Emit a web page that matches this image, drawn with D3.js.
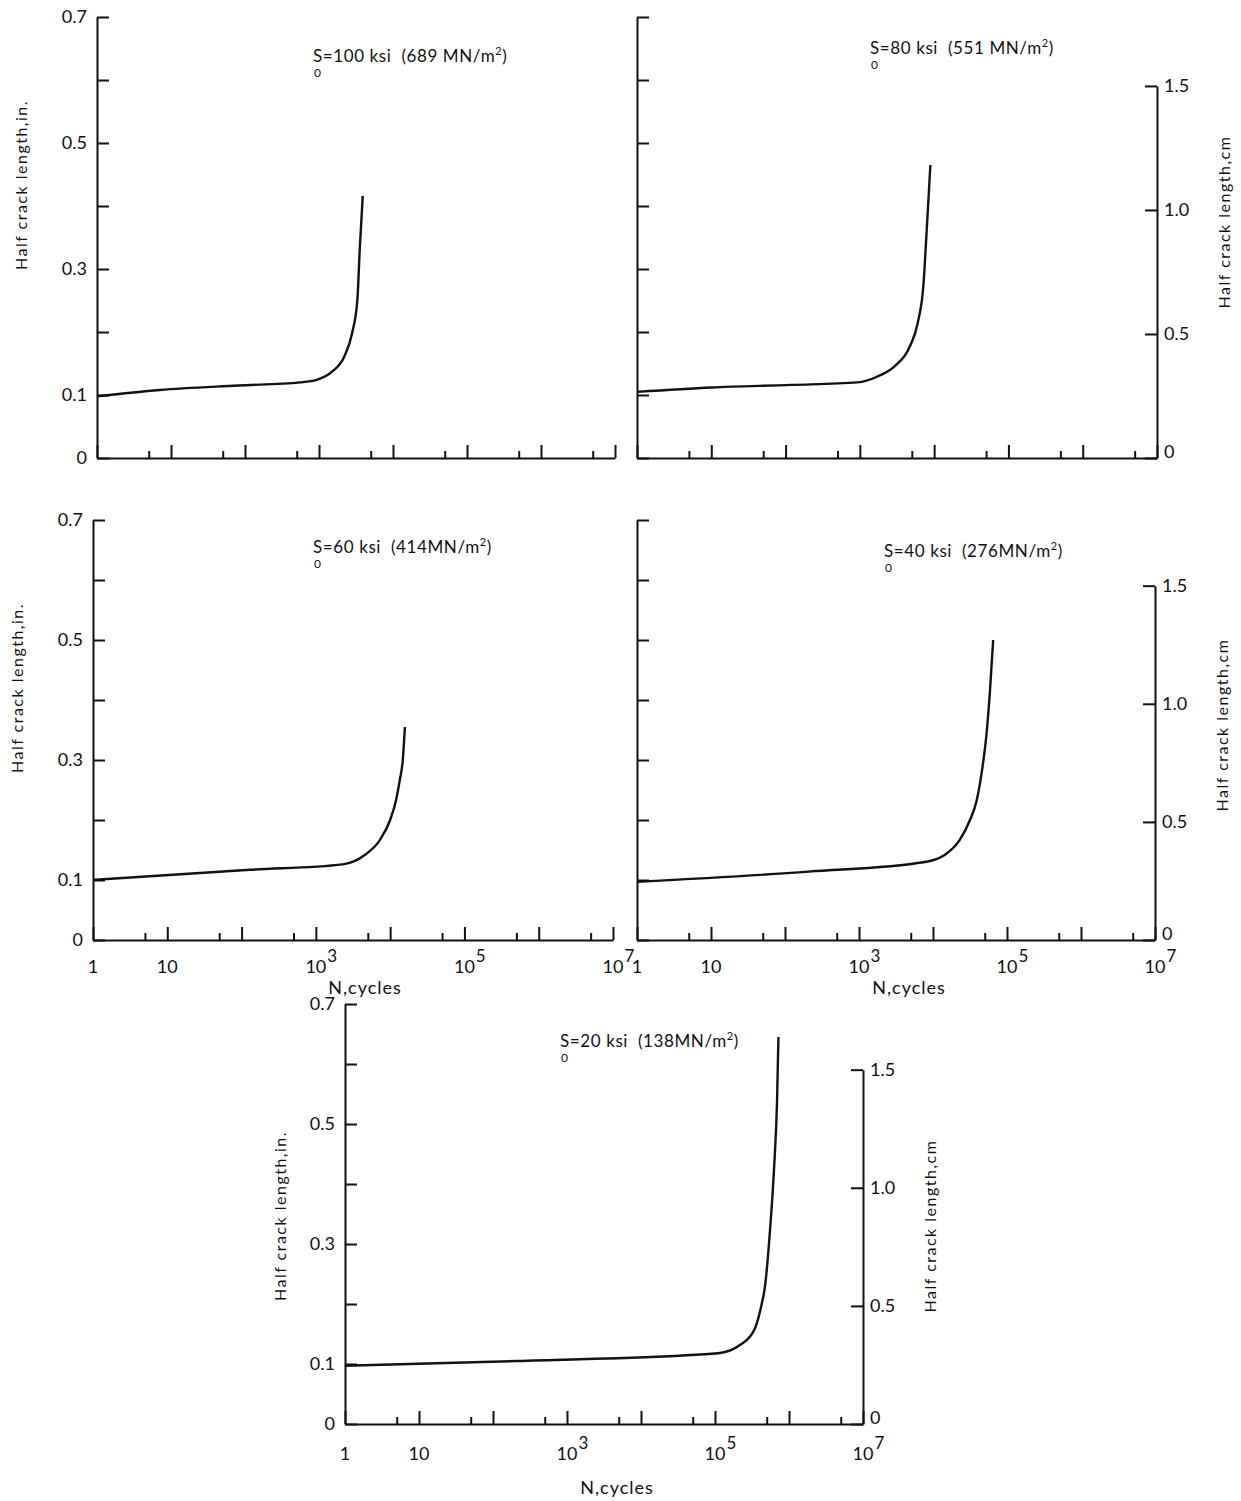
<!DOCTYPE html>
<html>
<head>
<meta charset="utf-8">
<script src="https://cdn.jsdelivr.net/npm/d3@7"></script>
<style>
  body { margin: 0; background: #fff; }
  text { font-family: "Lato", "DejaVu Sans", sans-serif; fill: #111; white-space: pre; }
</style>
</head>
<body>
<div id="chart"></div>
<script>
// N (cycles) and half crack length (in.)
const cycles100 = [1, 7, 80, 560, 930, 1500, 2200, 2800, 3300, 3550, 3900];
const crack100  = [0.098, 0.108, 0.115, 0.12, 0.124, 0.137, 0.161, 0.198, 0.251, 0.33, 0.416];

const cycles80 = [1, 10, 120, 930, 1700, 2900, 4700, 6000, 7200, 7900, 8900];
const crack80  = [0.105, 0.112, 0.116, 0.12, 0.129, 0.145, 0.177, 0.214, 0.277, 0.357, 0.465];

const cycles60 = [1, 130, 2300, 4600, 7300, 10000, 12000, 13500, 14800, 15800];
const crack60  = [0.1, 0.117, 0.126, 0.142, 0.167, 0.2, 0.233, 0.267, 0.3, 0.355];

const cycles40 = [1, 210, 7800, 14500, 23000, 31600, 39000, 46000, 53500, 59000, 65000];
const crack40  = [0.097, 0.114, 0.13, 0.142, 0.167, 0.2, 0.233, 0.283, 0.35, 0.417, 0.5];

const cycles20 = [1, 210, 110000, 220000, 340000, 410000, 480000, 550000, 630000, 690000, 720000];
const crack20  = [0.097, 0.105, 0.118, 0.132, 0.157, 0.19, 0.235, 0.318, 0.429, 0.54, 0.645];

// titles: stress in ksi and MN/m^2
const stressKsi = ["100", "80", "60", "40", "20"];
const stressMN  = ["689 MN/m", "551 MN/m", "414MN/m", "276MN/m", "138MN/m"];

// ticks
const inchTicks  = [0, 0.1, 0.2, 0.3, 0.4, 0.5, 0.6, 0.7];
const inchLabels = [0, 0.1, 0.3, 0.5, 0.7];
const cmTicks    = [0, 0.5, 1.0, 1.5];
const cycleMajor = [1, 10, 100, 1e3, 1e4, 1e5, 1e6, 1e7];
const cycleMinor = [5, 50, 500, 5e3, 5e4, 5e5, 5e6];
const cycleLabels = [1, 10, 1e3, 1e5, 1e7];

const width = 1241, height = 1501;

const svg = d3.select("#chart")
  .append("svg")
  .attr("width", width)
  .attr("height", height);

// panel placement
const panels = [
  { N: cycles100, a: crack100, x0: 97,  x1: 615,  yTop: 17,   y0: 458,  left: true,  right: false, xlab: false, tx: 313, ty: 62 },
  { N: cycles80,  a: crack80,  x0: 637, x1: 1157, yTop: 17,   y0: 458,  left: false, right: true,  xlab: false, tx: 870, ty: 54 },
  { N: cycles60,  a: crack60,  x0: 93,  x1: 613,  yTop: 520,  y0: 940,  left: true,  right: false, xlab: true,  tx: 313, ty: 553 },
  { N: cycles40,  a: crack40,  x0: 637, x1: 1155, yTop: 520,  y0: 940,  left: false, right: true,  xlab: true,  tx: 884, ty: 557 },
  { N: cycles20,  a: crack20,  x0: 345, x1: 863,  yTop: 1004, y0: 1424, left: true,  right: true,  xlab: true,  tx: 560, ty: 1047 }
];

function styleAxis(g) {
  g.selectAll("path, line").attr("stroke", "#111").attr("stroke-width", 2);
  g.selectAll("text").attr("font-size", 18).attr("fill", "#111");
}

panels.forEach((p, i) => {
  const x = d3.scaleLog().domain([1, 1e7]).range([p.x0, p.x1]);
  const y = d3.scaleLinear().domain([0, 0.7]).range([p.y0, p.yTop]);

  // x axis, major and minor ticks pointing inward
  svg.append("g")
    .attr("transform", "translate(0," + p.y0 + ")")
    .call(d3.axisBottom(x).tickValues(cycleMajor).tickSizeInner(-13).tickSizeOuter(0).tickFormat(""))
    .call(styleAxis);
  svg.append("g")
    .attr("transform", "translate(0," + p.y0 + ")")
    .call(d3.axisBottom(x).tickValues(cycleMinor).tickSizeInner(-7).tickSizeOuter(0).tickFormat(""))
    .call(styleAxis)
    .call(g => g.select(".domain").remove());

  // left inch axis
  const labelled = new Set(inchLabels);
  svg.append("g")
    .attr("transform", "translate(" + p.x0 + ",0)")
    .call(d3.axisLeft(y).tickValues(inchTicks).tickSizeInner(-12).tickSizeOuter(0).tickPadding(10)
      .tickFormat(d => p.left && labelled.has(d) ? (d === 0 ? "0" : d3.format(".1f")(d)) : ""))
    .call(styleAxis);

  // right cm axis, only up to 1.5 cm
  if (p.right) {
    const yc = d3.scaleLinear().domain([0, 1.5]).range([p.y0, y(1.5 / 2.54)]);
    svg.append("g")
      .attr("transform", "translate(" + p.x1 + ",0)")
      .call(d3.axisRight(yc).tickValues(cmTicks).tickSizeInner(-12).tickSizeOuter(0).tickPadding(7)
        .tickFormat(d => d === 0 ? "0" : d3.format(".1f")(d)))
      .call(styleAxis)
      .call(g => g.selectAll(".tick").filter(d => d === 0).select("text").attr("dy", "-0.05em"));

    svg.append("text")
      .attr("transform", "translate(" + (p.x1 + 66) + "," + (p.yTop + (i === 4 ? 222 : 205)) + ") rotate(-90)")
      .attr("text-anchor", "middle")
      .attr("dominant-baseline", "central")
      .attr("font-size", 16)
      .attr("letter-spacing", 1.5)
      .text("Half crack length,cm");
  }

  if (p.left) {
    svg.append("text")
      .attr("transform", "translate(" + (p.x0 - (i === 4 ? 66 : 77)) + "," + (p.yTop + (i === 4 ? 212 : 168)) + ") rotate(-90)")
      .attr("text-anchor", "middle")
      .attr("dominant-baseline", "central")
      .attr("font-size", 16)
      .attr("letter-spacing", 1.5)
      .text("Half crack length,in.");
  }

  // N tick labels with superscript exponents
  if (p.xlab) {
    const ly = p.y0 + (i === 4 ? 36 : 33);
    cycleLabels.forEach(v => {
      const e = Math.round(Math.log10(v));
      const base = svg.append("text")
        .attr("x", x(v))
        .attr("y", ly)
        .attr("text-anchor", "middle")
        .attr("font-size", 18)
        .text(e === 0 ? "1" : "10");
      if (e > 1) {
        const bb = base.node().getBBox();
        svg.append("text")
          .attr("x", bb.x + bb.width + 1)
          .attr("y", ly - 11)
          .attr("font-size", 17)
          .text(String(e));
      }
    });
    svg.append("text")
      .attr("x", p.x0 + 272)
      .attr("y", p.y0 + (i === 4 ? 70 : 54))
      .attr("text-anchor", "middle")
      .attr("font-size", 18)
      .attr("letter-spacing", 1)
      .text("N,cycles");
  }

  // title  S0 = ... ksi (... MN/m2), subscript 0 set under the S
  svg.append("text")
    .attr("x", p.tx + 1)
    .attr("y", p.ty + 15)
    .attr("font-size", 12)
    .text("0");
  const t = svg.append("text")
    .attr("x", p.tx)
    .attr("y", p.ty)
    .attr("font-size", 17)
    .attr("letter-spacing", 0.6);
  t.append("tspan").text("S=" + stressKsi[i] + " ksi  (" + stressMN[i]);
  t.append("tspan").attr("font-size", 11).attr("dy", -7).text("2");
  t.append("tspan").attr("dy", 7).text(")");

  // curve
  const pts = p.N.map((n, k) => [n, p.a[k]]);
  svg.append("path")
    .datum(pts)
    .attr("fill", "none")
    .attr("stroke", "#111")
    .attr("stroke-width", 2.4)
    .attr("d", d3.line()
      .x(d => x(d[0]))
      .y(d => y(d[1]))
      .curve(d3.curveMonotoneX));
});
</script>
</body>
</html>
